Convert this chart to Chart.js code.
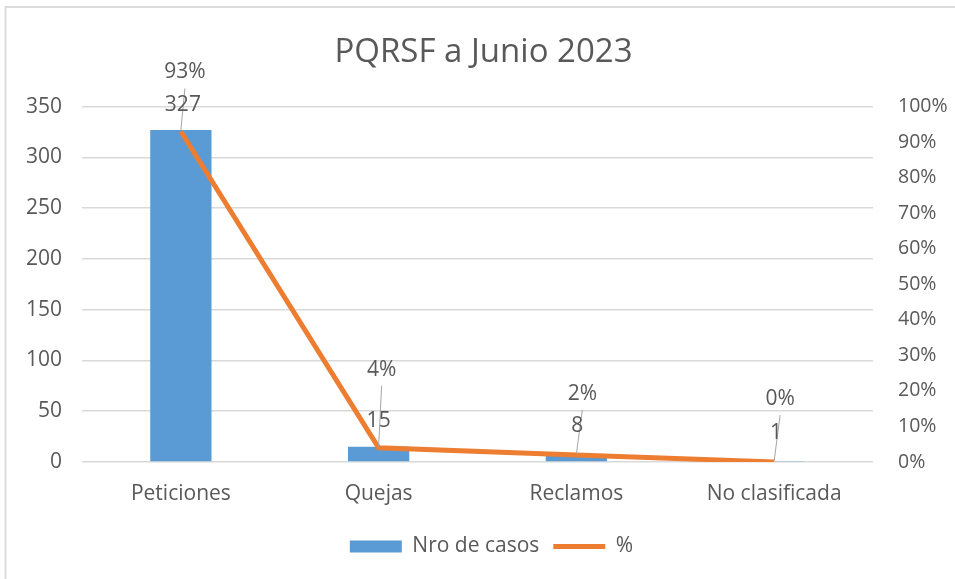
<!DOCTYPE html>
<html>
<head>
<meta charset="utf-8">
<script src="https://cdn.jsdelivr.net/npm/chart.js@4.4.0/dist/chart.umd.min.js"></script>
<style>
  html, body { margin: 0; padding: 0; background: #ffffff; }
  #wrap { width: 955px; height: 579px; position: relative; }
</style>
</head>
<body>
<div id="wrap"><canvas id="c" width="955" height="579"></canvas></div>
<script>
// PQRSF cases by type, first half of 2023
const categories = ['Peticiones', 'Quejas', 'Reclamos', 'No clasificada'];
const casos = [327, 15, 8, 1];
const porcentaje = [93, 4, 2, 0];
const casosTicks = [0, 50, 100, 150, 200, 250, 300, 350];
const pctTicks = [0, 10, 20, 30, 40, 50, 60, 70, 80, 90, 100];

const FONT = "'Open Sans', 'Liberation Sans', sans-serif";
const TEXT = '#595959';

// Hand-placed label offsets (pixels) relative to each mark
const pctLabelDX = [4, 3, 6, 6];
const pctLabelDY = [-59, -78, -61, -63];
const numLabelDX = [2, 0, 1, 2];
const numLabelDY = [-25, -26, -28, -28];

const frame = {
  id: 'frame',
  beforeDraw(chart) {
    const ctx = chart.ctx;
    ctx.save();
    ctx.fillStyle = '#ffffff';
    ctx.fillRect(0, 0, chart.width, chart.height);
    ctx.strokeStyle = '#dcdcdc';
    ctx.lineWidth = 2;
    ctx.beginPath();
    ctx.moveTo(5.5, chart.height);
    ctx.lineTo(5.5, 7);
    ctx.lineTo(chart.width, 7);
    ctx.stroke();
    ctx.restore();
  }
};

// nudge the title and legend a little to the right of the canvas centre
const blockShift = {
  id: 'blockShift',
  afterLayout(chart) {
    if (chart.legend) {
      chart.legend.left += 14;
      chart.legend.right += 14;
    }
    if (chart.titleBlock) {
      chart.titleBlock.left += 6;
      chart.titleBlock.right += 6;
    }
  }
};

const valueLabels = {
  id: 'valueLabels',
  afterDatasetsDraw(chart) {
    const ctx = chart.ctx;
    const bars = chart.getDatasetMeta(0).data;
    const pts = chart.getDatasetMeta(1).data;
    ctx.save();
    ctx.font = '21px ' + FONT;
    ctx.fillStyle = TEXT;
    ctx.textAlign = 'center';
    ctx.textBaseline = 'middle';
    for (let i = 0; i < categories.length; i++) {
      const p = pts[i];
      const b = bars[i];
      const px = p.x + pctLabelDX[i];
      const py = p.y + pctLabelDY[i];
      // leader line from the mark up to the percentage label
      ctx.strokeStyle = '#a6a6a6';
      ctx.lineWidth = 1;
      ctx.beginPath();
      ctx.moveTo(p.x, Math.min(p.y, b.y));
      ctx.lineTo(px, py + 16);
      ctx.stroke();
      ctx.fillText(porcentaje[i] + '%', px, py);
      ctx.fillText(String(casos[i]), b.x + numLabelDX[i], b.y + numLabelDY[i]);
    }
    ctx.restore();
  }
};

new Chart(document.getElementById('c'), {
  data: {
    labels: categories,
    datasets: [
      {
        type: 'bar',
        label: 'Nro de casos',
        data: casos,
        yAxisID: 'y',
        backgroundColor: '#5B9BD5',
        borderWidth: 0,
        barPercentage: 0.31,
        categoryPercentage: 1,
        pointStyle: 'rect',
        order: 1
      },
      {
        type: 'line',
        label: '%',
        data: porcentaje,
        yAxisID: 'y1',
        borderColor: '#ED7D31',
        backgroundColor: '#ED7D31',
        borderWidth: 5,
        pointRadius: 0,
        tension: 0,
        pointStyle: 'line',
        order: 0
      }
    ]
  },
  options: {
    responsive: false,
    animation: false,
    layout: { padding: { left: 0, right: 0, top: 0, bottom: 12 } },
    scales: {
      x: {
        grid: { display: false, drawTicks: false },
        border: { display: false },
        ticks: { color: TEXT, font: { family: FONT, size: 21 }, padding: 19 },
        afterFit(s) { s.height = 60; }
      },
      y: {
        position: 'left',
        min: 0,
        max: 350,
        afterBuildTicks(s) { s.ticks = casosTicks.map(v => ({ value: v })); },
        grid: { color: '#d9d9d9', lineWidth: 1.5, drawTicks: false },
        border: { display: false },
        ticks: { color: TEXT, font: { family: FONT, size: 21 }, padding: 20 },
        afterFit(s) { s.width = 82; }
      },
      y1: {
        position: 'right',
        min: 0,
        max: 100,
        afterBuildTicks(s) { s.ticks = pctTicks.map(v => ({ value: v })); },
        grid: { display: false, drawTicks: false },
        border: { display: false },
        ticks: { color: TEXT, font: { family: FONT, size: 19.5 }, padding: 25, callback: v => v + '%' },
        afterFit(s) { s.width = 82; }
      }
    },
    plugins: {
      title: {
        display: true,
        text: 'PQRSF a Junio 2023',
        color: TEXT,
        font: { family: FONT, size: 33, weight: 'normal' },
        padding: { top: 33, bottom: 34 }
      },
      legend: {
        position: 'bottom',
        labels: {
          color: TEXT,
          font: { family: FONT, size: 21 },
          usePointStyle: true,
          pointStyleWidth: 52,
          boxHeight: 12,
          padding: 14,
          sort: (a, b) => a.datasetIndex - b.datasetIndex
        }
      },
      tooltip: { enabled: false }
    }
  },
  plugins: [frame, blockShift, valueLabels]
});
</script>
</body>
</html>
